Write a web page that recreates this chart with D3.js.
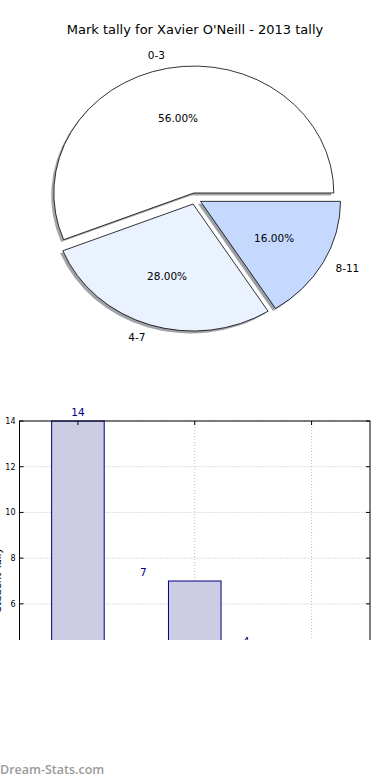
<!DOCTYPE html>
<html><head><meta charset="utf-8">
<script src="https://cdn.jsdelivr.net/npm/d3@7"></script>
<style>body{margin:0;background:#fff}svg{display:block}</style>
</head><body><svg id="c" width="390" height="780"></svg>
<script>
const title = "Mark tally for Xavier O'Neill - 2013 tally";
const pieLabels = ["0-3", "4-7", "8-11"];
const pieValues = [56, 28, 16];
const pieColors = ["#ffffff", "#eaf1ff", "#c5d9ff"];
const barCategories = ["0-3", "4-7", "8-11"];
const barValues = [14, 7, 4];
const yTicks = [0, 2, 4, 6, 8, 10, 12, 14];
const yLabel = "Student Tally";
const watermark = "Dream-Stats.com";

const svg = d3.select("#c");
const font = "DejaVu Sans, sans-serif";

svg.append("text").attr("x", 195).attr("y", 34).attr("text-anchor", "middle")
  .attr("font-family", font).attr("font-size", 13).attr("fill", "#000").text(title);

// ---- Pie ----
const cx = 195, cy = 198.6, rx = 140, ry = 127, explode = 0.045;
const pie = d3.pie().sort(null).startAngle(Math.PI / 2).endAngle(Math.PI / 2 - 2 * Math.PI);
const arcs = pie(pieValues);
const arc = d3.arc().innerRadius(0).outerRadius(1);
const pg = svg.append("g");
function off(d, k) {
  const m = (d.startAngle + d.endAngle) / 2;
  return [Math.sin(m) * k, -Math.cos(m) * k];
}
arcs.forEach((d, i) => {
  const [ox, oy] = off(d, explode);
  const x0 = cx + ox * rx, y0 = cy + oy * ry;
  const c = d3.color(pieColors[i]);
  const sh = d3.rgb(c.r * 0.3, c.g * 0.3, c.b * 0.3);
  pg.append("path").attr("d", arc(d))
    .attr("transform", `translate(${x0 - 2.6},${y0 + 2.4}) scale(${rx},${ry})`)
    .attr("fill", sh).attr("fill-opacity", 0.5).attr("stroke", "none");
});
arcs.forEach((d, i) => {
  const [ox, oy] = off(d, explode);
  const x0 = cx + ox * rx, y0 = cy + oy * ry;
  pg.append("path").attr("d", arc(d))
    .attr("transform", `translate(${x0},${y0}) scale(${rx},${ry})`)
    .attr("fill", pieColors[i]).attr("stroke", "#000").attr("stroke-width", 0.8)
    .attr("vector-effect", "non-scaling-stroke").attr("stroke-linejoin", "round");
  const m = (d.startAngle + d.endAngle) / 2;
  const lx = x0 + Math.sin(m) * 1.1 * rx, ly = y0 - Math.cos(m) * 1.1 * ry;
  pg.append("text").attr("x", lx).attr("y", ly).attr("dy", "0.35em")
    .attr("text-anchor", Math.sin(m) < 0 ? "end" : "start")
    .attr("font-family", font).attr("font-size", 10.5).attr("fill", "#000").text(pieLabels[i]);
  const px = x0 + Math.sin(m) * 0.6 * rx, py = y0 - Math.cos(m) * 0.6 * ry;
  const tot = d3.sum(pieValues);
  pg.append("text").attr("x", px).attr("y", py).attr("dy", "0.35em").attr("text-anchor", "middle")
    .attr("font-family", font).attr("font-size", 10.5).attr("fill", "#000")
    .text((pieValues[i] / tot * 100).toFixed(2) + "%");
});

// ---- Bar chart ----
svg.append("defs").append("clipPath").attr("id", "clipB")
  .append("rect").attr("x", 0).attr("y", 380).attr("width", 390).attr("height", 260);
const bg = svg.append("g").attr("clip-path", "url(#clipB)");
const x = d3.scaleLinear().domain([0, barCategories.length]).range([19.5, 370]);
const y = d3.scaleLinear().domain([0, 14]).range([741, 421]);
const grid = "#bdbdbd";
// grid
yTicks.forEach(t => {
  bg.append("line").attr("x1", x(0)).attr("x2", x(3)).attr("y1", y(t)).attr("y2", y(t))
    .attr("stroke", grid).attr("stroke-width", 1).attr("stroke-dasharray", "1,2");
});
barCategories.forEach((c, i) => {
  bg.append("line").attr("x1", x(i + 0.5)).attr("x2", x(i + 0.5)).attr("y1", y(14)).attr("y2", y(0))
    .attr("stroke", grid).attr("stroke-width", 1).attr("stroke-dasharray", "1,2");
});
// bars
const bw = 0.45;
const lblShift = [0, -0.44, -0.56];
barValues.forEach((v, i) => {
  bg.append("rect").attr("x", x(i + 0.5 - bw / 2)).attr("y", y(v))
    .attr("width", x(bw) - x(0)).attr("height", y(0) - y(v))
    .attr("fill", "#ccccE4").attr("stroke", "#000080").attr("stroke-width", 1);
  bg.append("text").attr("x", x(i + 0.5 + lblShift[i])).attr("y", y(v) - 5)
    .attr("text-anchor", "middle").attr("font-family", font).attr("font-size", 10.5)
    .attr("fill", "#000080").text(v);
});
// spines
bg.append("rect").attr("x", x(0)).attr("y", y(14)).attr("width", x(3) - x(0)).attr("height", y(0) - y(14))
  .attr("fill", "none").attr("stroke", "#000").attr("stroke-width", 1);
// ticks
yTicks.forEach(t => {
  bg.append("line").attr("x1", x(0)).attr("x2", x(0) + 4).attr("y1", y(t)).attr("y2", y(t)).attr("stroke", "#000");
  bg.append("line").attr("x1", x(3)).attr("x2", x(3) - 4).attr("y1", y(t)).attr("y2", y(t)).attr("stroke", "#000");
  bg.append("text").attr("x", x(0) - 4).attr("y", y(t)).attr("dy", "0.35em").attr("text-anchor", "end")
    .attr("font-family", font).attr("font-size", 8).attr("fill", "#000").text(t);
});
barCategories.forEach((c, i) => {
  bg.append("line").attr("x1", x(i + 0.5)).attr("x2", x(i + 0.5)).attr("y1", y(14)).attr("y2", y(14) + 4).attr("stroke", "#000");
});
bg.append("text").attr("transform", `translate(1,580) rotate(-90)`).attr("text-anchor", "middle")
  .attr("font-family", font).attr("font-size", 10).attr("fill", "#000").text(yLabel);

svg.append("text").attr("x", 0).attr("y", 774).attr("font-family", "Open Sans, sans-serif")
  .attr("font-weight", 600).attr("font-size", 12.5).attr("fill", "#9a9a9a").text(watermark);
</script></body></html>
